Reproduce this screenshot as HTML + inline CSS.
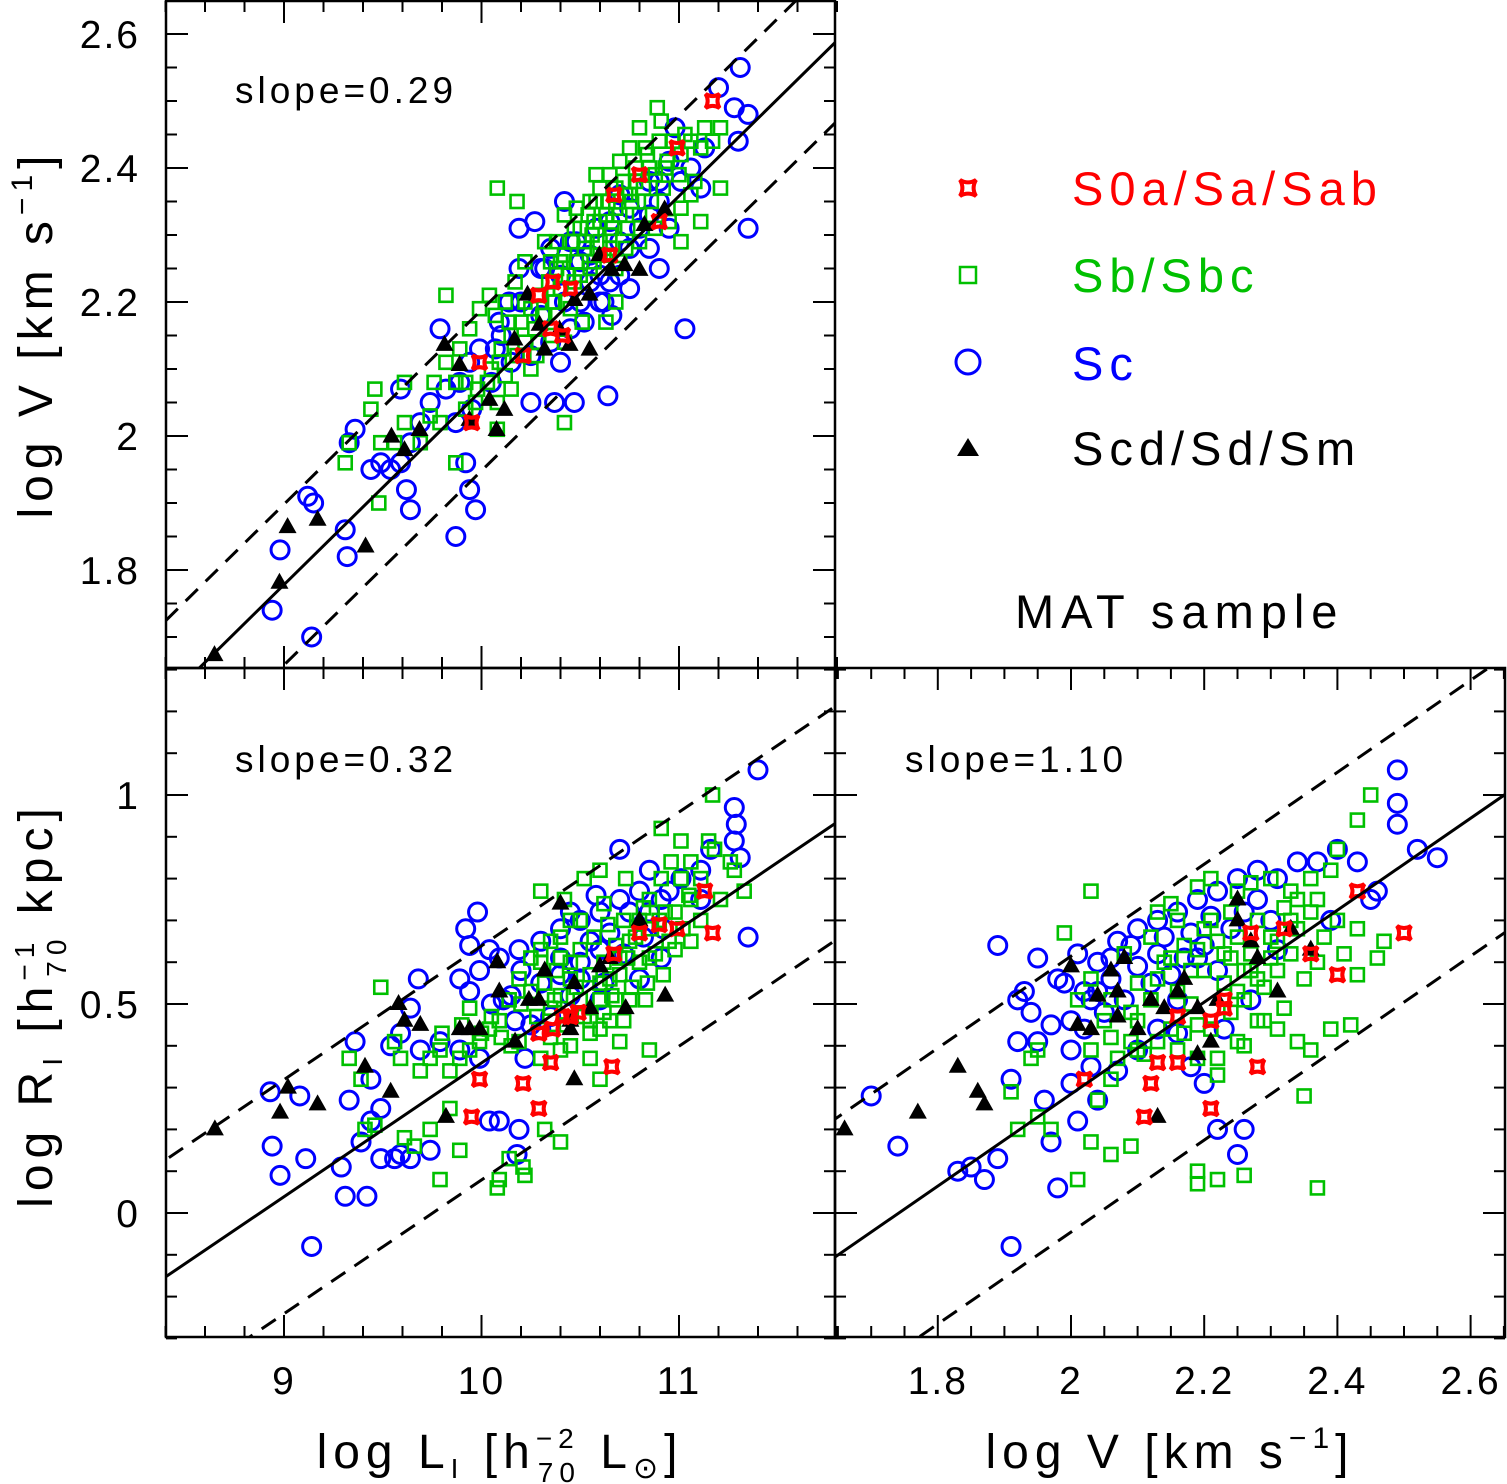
<!DOCTYPE html>
<html><head><meta charset="utf-8"><style>
html,body{margin:0;padding:0;background:#fff;}
svg{display:block;font-family:"Liberation Sans",sans-serif;}
</style></head><body>
<svg id="chart" width="1507" height="1484" viewBox="0 0 1507 1484" xmlns="http://www.w3.org/2000/svg">
<defs>
<clipPath id="clipTL"><rect x="166" y="0" width="669" height="668"/></clipPath>
<clipPath id="clipBL"><rect x="166" y="668" width="669" height="669"/></clipPath>
<clipPath id="clipBR"><rect x="835" y="668" width="670" height="669"/></clipPath>
</defs>
<g id="layer"></g>
<rect x="166" y="1" width="669" height="667" fill="none" stroke="#000" stroke-width="2.5"/>
<rect x="166" y="668" width="669" height="669" fill="none" stroke="#000" stroke-width="2.5"/>
<rect x="835" y="668" width="670" height="669" fill="none" stroke="#000" stroke-width="2.5"/>
<g font-size="37" fill="#000" letter-spacing="4">
<text x="235" y="103">slope=0.29</text>
<text x="235" y="772">slope=0.32</text>
<text x="905" y="772">slope=1.10</text>
</g>
<g font-size="47" letter-spacing="6">
<text x="1072" y="205" fill="#ff0000">S0a/Sa/Sab</text>
<text x="1072" y="292" fill="#00c000">Sb/Sbc</text>
<text x="1072" y="380" fill="#0000ff">Sc</text>
<text x="1072" y="465" fill="#000">Scd/Sd/Sm</text>
</g>
<text x="1015" y="628" font-size="47" letter-spacing="7">MAT sample</text>
<g font-size="48" letter-spacing="6">
<text transform="translate(52,334) rotate(-90)" text-anchor="middle">log V [km s<tspan font-size="30" dy="-20">−1</tspan><tspan dy="20">]</tspan></text>
<text transform="translate(52,1005) rotate(-90)" text-anchor="middle">log R<tspan font-size="28" dy="10">I</tspan><tspan dy="-10"> [h</tspan><tspan font-size="28" dy="-18">−1</tspan><tspan font-size="28" dx="-40" dy="32">70</tspan><tspan dy="-14"> kpc]</tspan></text>
<text x="500" y="1468" text-anchor="middle">log L<tspan font-size="28" dy="10">I</tspan><tspan dy="-10"> [h</tspan><tspan font-size="28" dy="-20">−2</tspan><tspan font-size="28" dx="-42" dy="34">70</tspan><tspan dy="-14"> L</tspan><tspan font-size="30" dy="10">⊙</tspan><tspan dy="-10">]</tspan></text>
<text x="1170" y="1468" text-anchor="middle">log V [km s<tspan font-size="30" dy="-20">−1</tspan><tspan dy="20">]</tspan></text>
</g>
</svg>
<script>
// ---------- data ----------
const tlTicksX = [9, 10, 11];
const tlTicksY = [1.8, 2, 2.2, 2.4, 2.6];
const blTicksY = [0, 0.5, 1];
const brTicksX = [1.8, 2, 2.2, 2.4, 2.6];
const tickLabelsY1 = ["1.8", "2", "2.2", "2.4", "2.6"];
const tickLabelsY2 = ["0", "0.5", "1"];
const tickLabelsX1 = ["9", "10", "11"];
const tickLabelsX2 = ["1.8", "2", "2.2", "2.4", "2.6"];

// fits: [intercept at pivot, slope, pivot, scatter]
const fitTL = [1.654, 0.29, 8.572, 0.12];
const fitBL = [-0.153, 0.32, 8.40, 0.28];
const fitBR = [-0.105, 1.10, 1.646, 0.33];

// top-left: [logL, logV]
const tlSa = [[11.17,2.50],[10.99,2.43],[10.80,2.39],[10.67,2.36],[10.36,2.23],[10.29,2.21],[10.45,2.22],[10.21,2.12],[10.35,2.16],[10.41,2.15],[9.99,2.11],[9.95,2.02],[10.90,2.32],[10.65,2.27]];
const tlSb = [[10.89,2.49],[10.91,2.47],[10.80,2.46],[10.83,2.43],[10.75,2.43],[10.70,2.41],[10.65,2.39],[10.60,2.37],[10.55,2.35],[10.57,2.32],[10.52,2.29],[10.47,2.31],[10.42,2.33],[10.40,2.26],[10.35,2.26],[10.32,2.29],[10.22,2.26],[10.17,2.23],[10.12,2.20],[10.07,2.18],[10.04,2.21],[9.99,2.19],[9.94,2.16],[9.89,2.13],[9.87,2.08],[9.82,2.11],[9.76,2.08],[9.74,2.03],[9.69,1.99],[9.61,2.02],[9.56,1.99],[9.49,1.99],[9.44,2.04],[9.33,1.99],[9.31,1.96],[9.46,2.07],[9.61,2.08],[9.82,2.21],[10.08,2.37],[10.18,2.35],[10.22,2.20],[10.29,2.14],[10.42,2.14],[10.51,2.17],[10.63,2.17],[10.68,2.20],[10.73,2.28],[10.80,2.29],[10.88,2.31],[10.95,2.32],[11.01,2.34],[11.06,2.36],[11.08,2.38],[11.11,2.43],[11.17,2.44],[11.21,2.46],[11.13,2.46],[11.06,2.44],[11.01,2.42],[10.93,2.40],[10.85,2.40],[10.78,2.38],[10.73,2.36],[10.68,2.34],[10.63,2.33],[10.57,2.26],[10.65,2.30],[10.47,2.23],[10.37,2.20],[10.31,2.18],[10.14,2.17],[10.09,2.11],[10.03,2.08],[9.97,2.05],[9.87,1.96],[9.79,2.02],[9.92,2.04],[10.42,2.02],[10.08,2.01],[9.48,1.90],[11.11,2.32],[11.21,2.37],[11.01,2.29],[10.75,2.36],[10.68,2.25],[10.60,2.29],[10.40,2.22],[10.25,2.10],
[10.05,2.10],[10.10,2.13],[10.12,2.09],[10.15,2.15],[10.18,2.12],[10.20,2.17],[10.22,2.14],[10.25,2.19],[10.27,2.16],[10.30,2.21],[10.32,2.18],[10.34,2.23],[10.36,2.20],[10.38,2.25],[10.40,2.22],[10.42,2.27],[10.44,2.24],[10.46,2.29],[10.48,2.26],[10.50,2.31],[10.52,2.28],[10.54,2.33],[10.56,2.30],[10.58,2.35],[10.60,2.32],[10.62,2.27],[10.64,2.35],[10.66,2.31],[10.68,2.37],[10.70,2.33],[10.72,2.38],[10.74,2.31],[10.76,2.35],[10.78,2.40],[10.80,2.33],[10.82,2.37],[10.84,2.42],[10.86,2.35],[10.88,2.39],[10.90,2.44],[10.92,2.37],[10.94,2.41],[10.97,2.44],[11.00,2.39],[11.03,2.45],[10.50,2.24],[10.45,2.19],[10.55,2.25],[10.60,2.27],[10.65,2.28],[10.35,2.15],[10.28,2.12],[10.15,2.07],[10.08,2.05],[9.98,2.07],[9.92,2.08],[10.58,2.39],[10.48,2.34],[10.38,2.29],[10.70,2.26]];
const tlSc = [[11.31,2.55],[11.20,2.52],[11.28,2.49],[11.30,2.44],[11.35,2.48],[11.13,2.43],[11.06,2.40],[11.11,2.37],[11.01,2.38],[10.90,2.35],[10.95,2.31],[10.85,2.28],[10.75,2.34],[10.70,2.29],[10.65,2.23],[10.60,2.20],[10.55,2.23],[10.50,2.26],[10.45,2.29],[10.42,2.35],[10.35,2.28],[10.30,2.25],[10.19,2.25],[10.14,2.20],[10.09,2.17],[10.07,2.13],[9.99,2.13],[9.94,2.11],[9.89,2.08],[9.82,2.07],[9.74,2.05],[9.69,2.02],[9.64,1.99],[9.59,1.96],[9.54,1.95],[9.49,1.96],[9.44,1.95],[9.36,2.01],[9.33,1.99],[9.59,2.07],[9.79,2.16],[9.87,2.02],[9.92,1.96],[9.94,1.92],[9.97,1.89],[9.87,1.85],[9.62,1.92],[9.64,1.89],[9.31,1.86],[9.32,1.82],[9.12,1.91],[9.15,1.90],[8.98,1.83],[8.94,1.74],[9.14,1.70],[11.35,2.31],[11.03,2.16],[10.64,2.06],[10.47,2.05],[10.37,2.05],[10.25,2.05],[10.40,2.11],[10.75,2.22],[10.90,2.25],[10.19,2.31],[10.27,2.32],[10.85,2.38],[10.98,2.46],
[10.10,2.15],[10.20,2.20],[10.30,2.18],[10.40,2.24],[10.50,2.20],[10.55,2.27],[10.60,2.24],[10.65,2.32],[10.70,2.24],[10.75,2.28],[10.80,2.31],[10.85,2.33],[10.62,2.20],[10.52,2.17],[10.45,2.16],[10.35,2.14],[10.25,2.12],[10.15,2.11],[10.05,2.08],[9.95,2.04],[10.70,2.36],[10.58,2.31],[10.48,2.29],[10.90,2.38],[10.95,2.41],[10.42,2.20],[10.32,2.25],[10.66,2.18]];
const tlScd = [[8.648,1.673],[8.977,1.781],[9.018,1.864],[9.170,1.875],[9.413,1.835],[9.544,1.999],[9.610,1.979],[9.686,2.009],[9.813,2.136],[9.889,2.106],[9.939,2.024],[10.040,2.054],[10.076,2.009],[10.116,2.039],[10.167,2.144],[10.233,2.211],[10.294,2.166],[10.319,2.129],[10.395,2.159],[10.446,2.136],[10.547,2.211],[10.597,2.270],[10.658,2.248],[10.724,2.255],[10.800,2.248],[10.825,2.315],[10.927,2.338],[10.547,2.129],[10.471,2.203]];

// bottom-left: [logL, logR]
const blSa = [[11.13,0.77],[11.17,0.67],[10.99,0.68],[10.80,0.67],[10.67,0.62],[10.36,0.44],[10.29,0.43],[10.45,0.47],[10.21,0.31],[10.35,0.36],[10.41,0.47],[9.99,0.32],[9.95,0.23],[10.90,0.69],[10.66,0.35],[10.49,0.48],[10.29,0.25]];
const blSb = [[11.17,1.00],[11.15,0.89],[11.18,0.87],[11.26,0.84],[11.33,0.77],[11.11,0.80],[11.06,0.75],[11.01,0.80],[10.96,0.84],[10.91,0.80],[10.85,0.75],[10.80,0.70],[10.75,0.65],[10.70,0.61],[10.65,0.56],[10.60,0.51],[10.55,0.46],[10.50,0.51],[10.45,0.56],[10.40,0.61],[10.35,0.65],[10.30,0.63],[10.25,0.61],[10.19,0.56],[10.14,0.51],[10.09,0.46],[10.04,0.44],[9.99,0.41],[9.94,0.39],[9.89,0.37],[9.84,0.34],[9.79,0.39],[9.74,0.37],[9.69,0.34],[9.59,0.37],[9.49,0.54],[9.56,0.41],[9.61,0.18],[9.66,0.16],[9.79,0.08],[9.89,0.15],[10.08,0.06],[10.09,0.08],[10.22,0.09],[10.21,0.11],[10.14,0.13],[10.32,0.20],[10.40,0.17],[10.60,0.32],[10.45,0.70],[10.52,0.80],[10.60,0.82],[10.73,0.80],[10.91,0.92],[11.01,0.89],[11.06,0.84],[11.11,0.70],[10.98,0.63],[10.85,0.61],[10.75,0.51],[10.65,0.46],[10.55,0.37],[10.40,0.39],[10.30,0.77],[10.37,0.51],[10.85,0.39],[10.93,0.72],[11.06,0.65],[11.21,0.75],[11.28,0.82],[10.60,0.44],[10.70,0.41],[10.30,0.37],[10.19,0.41],[9.94,0.49],[9.84,0.25],[9.74,0.20],[9.39,0.32],[9.33,0.37],[9.41,0.20],[9.46,0.21],[10.68,0.51],[10.83,0.51],[10.42,0.75],
[10.20,0.50],[10.25,0.53],[10.28,0.47],[10.32,0.55],[10.35,0.49],[10.38,0.58],[10.40,0.52],[10.43,0.45],[10.45,0.60],[10.48,0.54],[10.50,0.63],[10.52,0.47],[10.55,0.57],[10.57,0.66],[10.60,0.55],[10.62,0.60],[10.64,0.69],[10.66,0.52],[10.68,0.64],[10.70,0.57],[10.72,0.70],[10.74,0.61],[10.76,0.54],[10.78,0.66],[10.80,0.60],[10.82,0.73],[10.84,0.55],[10.86,0.68],[10.88,0.62],[10.90,0.70],[10.92,0.57],[10.95,0.65],[10.98,0.72],[11.02,0.68],[11.05,0.76],[10.10,0.42],[10.05,0.47],[10.00,0.43],[10.15,0.40],[10.35,0.42],[10.45,0.40],[10.55,0.43],[10.62,0.48],[10.50,0.70],[10.40,0.66],[10.30,0.60],[10.62,0.74],[10.72,0.46],[9.90,0.45],[9.80,0.43]];
const blSc = [[11.40,1.06],[11.28,0.97],[11.29,0.93],[11.28,0.89],[11.31,0.85],[11.35,0.66],[11.16,0.87],[11.11,0.82],[11.01,0.80],[10.91,0.75],[10.80,0.77],[10.70,0.75],[10.60,0.72],[10.50,0.70],[10.40,0.68],[10.30,0.65],[10.19,0.63],[10.09,0.61],[9.99,0.58],[9.94,0.53],[9.89,0.56],[9.92,0.68],[9.94,0.64],[9.98,0.72],[10.04,0.63],[10.11,0.51],[10.17,0.46],[10.22,0.37],[10.19,0.20],[10.18,0.14],[10.09,0.22],[10.04,0.22],[9.99,0.37],[9.89,0.39],[9.79,0.41],[9.69,0.39],[9.64,0.49],[9.68,0.56],[9.59,0.43],[9.54,0.40],[9.49,0.25],[9.44,0.22],[9.39,0.17],[9.29,0.11],[9.33,0.27],[9.44,0.32],[9.36,0.41],[9.49,0.13],[9.56,0.13],[9.64,0.13],[9.74,0.15],[9.59,0.14],[8.94,0.16],[8.98,0.09],[9.11,0.13],[9.14,-0.08],[9.31,0.04],[9.42,0.04],[9.08,0.28],[8.93,0.29],[10.80,0.56],[10.60,0.63],[10.85,0.82],[10.70,0.87],[10.50,0.56],[10.40,0.61],[10.30,0.44],[10.60,0.51],[10.91,0.61],[11.11,0.75],
[10.30,0.55],[10.40,0.57],[10.50,0.60],[10.55,0.65],[10.65,0.67],[10.75,0.72],[10.85,0.72],[10.95,0.77],[10.45,0.52],[10.35,0.47],[10.25,0.45],[10.15,0.52],[10.05,0.50],[10.62,0.55],[10.72,0.62],[10.82,0.66],[10.92,0.68],[10.45,0.72],[10.58,0.76],[10.20,0.58]];
const blScd = [[8.65,0.20],[8.98,0.24],[9.02,0.30],[9.17,0.26],[9.41,0.35],[9.54,0.29],[9.58,0.50],[9.61,0.46],[9.69,0.45],[9.82,0.23],[9.89,0.44],[9.94,0.44],[9.99,0.44],[10.08,0.60],[10.09,0.53],[10.17,0.41],[10.24,0.51],[10.29,0.51],[10.40,0.74],[10.45,0.44],[10.47,0.55],[10.55,0.49],[10.65,0.61],[10.73,0.49],[10.80,0.70],[10.93,0.52],[10.47,0.32],[10.45,0.46],[10.32,0.58],[10.60,0.59]];

// bottom-right: [logV, logR]
const brSa = [[2.50,0.67],[2.43,0.77],[2.40,0.57],[2.36,0.62],[2.32,0.68],[2.27,0.67],[2.23,0.51],[2.23,0.49],[2.21,0.46],[2.16,0.47],[2.16,0.36],[2.13,0.36],[2.12,0.31],[2.11,0.23],[2.02,0.32],[2.21,0.25],[2.28,0.35]];
const brSb = [[2.45,1.00],[2.43,0.94],[2.40,0.87],[2.39,0.82],[2.37,0.75],[2.36,0.80],[2.34,0.75],[2.33,0.70],[2.31,0.65],[2.30,0.61],[2.28,0.56],[2.27,0.58],[2.25,0.53],[2.24,0.61],[2.22,0.65],[2.21,0.70],[2.19,0.63],[2.18,0.58],[2.16,0.53],[2.15,0.61],[2.13,0.56],[2.12,0.51],[2.10,0.46],[2.09,0.41],[2.07,0.37],[2.06,0.32],[2.04,0.27],[2.03,0.56],[2.01,0.51],[1.99,0.67],[2.03,0.77],[2.10,0.39],[2.16,0.39],[2.19,0.37],[2.22,0.33],[2.25,0.41],[2.28,0.46],[2.31,0.44],[2.34,0.41],[2.36,0.39],[2.39,0.44],[2.42,0.45],[2.43,0.57],[2.46,0.61],[2.47,0.65],[2.37,0.06],[2.35,0.28],[2.26,0.09],[2.22,0.08],[2.19,0.10],[2.19,0.07],[2.09,0.16],[2.06,0.14],[2.03,0.17],[2.01,0.08],[1.97,0.20],[1.95,0.39],[1.94,0.37],[1.91,0.29],[1.92,0.20],[1.95,0.23],[2.26,0.58],[2.30,0.80],[2.33,0.77],[2.24,0.72],[2.13,0.72],[2.16,0.70],[2.06,0.51],[2.03,0.39],
[2.08,0.62],[2.10,0.55],[2.12,0.66],[2.14,0.60],[2.15,0.44],[2.17,0.64],[2.18,0.50],[2.20,0.58],[2.20,0.68],[2.21,0.44],[2.23,0.62],[2.23,0.55],[2.24,0.48],[2.25,0.66],[2.26,0.51],[2.27,0.62],[2.28,0.70],[2.29,0.54],[2.30,0.66],[2.31,0.58],[2.32,0.73],[2.32,0.49],[2.33,0.62],[2.34,0.68],[2.35,0.56],[2.36,0.72],[2.37,0.60],[2.38,0.66],[2.40,0.70],[2.41,0.62],[2.43,0.68],[2.05,0.46],[2.06,0.42],[2.09,0.48],[2.11,0.38],[2.13,0.41],[2.17,0.43],[2.19,0.45],[2.22,0.37],[2.26,0.40],[2.29,0.46],[2.15,0.74],[2.19,0.78],[2.25,0.77],[2.21,0.80],[2.27,0.79]];
const brSc = [[1.70,0.28],[1.74,0.16],[1.83,0.10],[1.85,0.11],[1.89,0.13],[1.91,-0.08],[1.89,0.64],[1.92,0.51],[1.92,0.41],[1.91,0.32],[1.95,0.41],[1.96,0.27],[1.97,0.17],[1.98,0.06],[2.00,0.39],[2.02,0.44],[2.03,0.51],[2.04,0.53],[2.06,0.61],[2.07,0.65],[2.10,0.68],[2.13,0.70],[2.16,0.72],[2.19,0.75],[2.22,0.77],[2.25,0.80],[2.28,0.82],[2.31,0.80],[2.34,0.84],[2.37,0.84],[2.40,0.87],[2.43,0.84],[2.46,0.77],[2.49,1.06],[2.49,0.98],[2.49,0.93],[2.52,0.87],[2.55,0.85],[2.45,0.75],[2.39,0.70],[2.19,0.61],[2.16,0.51],[2.13,0.44],[2.10,0.39],[2.07,0.34],[2.04,0.27],[2.01,0.22],[2.20,0.31],[2.22,0.20],[2.25,0.14],[2.26,0.20],[2.27,0.51],[2.31,0.63],[1.95,0.61],[1.98,0.56],[1.93,0.53],[1.87,0.08],
[2.00,0.46],[2.02,0.53],[2.04,0.60],[2.05,0.48],[2.06,0.56],[2.08,0.51],[2.09,0.64],[2.10,0.59],[2.12,0.55],[2.13,0.62],[2.14,0.66],[2.15,0.57],[2.17,0.61],[2.18,0.67],[2.20,0.64],[2.21,0.71],[2.22,0.58],[2.24,0.68],[2.26,0.72],[2.28,0.75],[2.30,0.70],[1.97,0.45],[1.99,0.55],[2.01,0.62],[2.03,0.35],[2.16,0.43],[2.18,0.35],[2.23,0.44],[2.00,0.31],[1.94,0.48]];
const brScd = [[1.66,0.20],[1.77,0.24],[1.83,0.35],[1.86,0.29],[1.87,0.26],[2.00,0.59],[2.01,0.45],[2.03,0.44],[2.04,0.52],[2.06,0.58],[2.07,0.47],[2.07,0.53],[2.08,0.61],[2.10,0.44],[2.12,0.51],[2.13,0.23],[2.14,0.49],[2.16,0.53],[2.17,0.56],[2.19,0.49],[2.19,0.38],[2.21,0.41],[2.22,0.51],[2.25,0.75],[2.25,0.70],[2.27,0.65],[2.28,0.61],[2.31,0.53],[2.33,0.68],[2.36,0.63]];

// ---------- axes ----------
const xL = v => 284 + (v - 9) * 197.5;
const yV = v => 34 + (2.6 - v) * 670;
const yR = v => 795 + (1 - v) * 418;
const xV = v => 1071 + (v - 2) * 666;

const NS = "http://www.w3.org/2000/svg";
const layer = document.getElementById('layer');
function mk(tag, attrs, parent) {
  const e = document.createElementNS(NS, tag);
  for (const k in attrs) e.setAttribute(k, attrs[k]);
  (parent || layer).appendChild(e);
  return e;
}
function group(clip, name) {
  const g = mk('g', clip ? {'clip-path': 'url(#' + clip + ')'} : {});
  
  
  return g;
}

// ---------- ticks ----------
const tg = group(null, 'axis-ticks');
function xTicks(fx, lo, hi, step, majorStep, y0, y1) {
  const n = Math.round((hi - lo) / step);
  for (let i = 0; i <= n; i++) {
    const v = lo + i * step;
    const major = Math.abs(v / majorStep - Math.round(v / majorStep)) < 1e-6;
    const L = major ? 22 : 11;
    const x = fx(v);
    const t1 = mk('line', {x1: x, x2: x, y1: y1, y2: y1 - L, stroke: '#000', 'stroke-width': 2}, tg);
    
    
    const t2 = mk('line', {x1: x, x2: x, y1: y0, y2: y0 + L, stroke: '#000', 'stroke-width': 2}, tg);
    
    
  }
}
function yTicks(fy, lo, hi, step, majorStep, x0, x1) {
  const n = Math.round((hi - lo) / step);
  for (let i = 0; i <= n; i++) {
    const v = lo + i * step;
    const major = Math.abs(v / majorStep - Math.round(v / majorStep)) < 1e-6;
    const L = major ? 22 : 11;
    const y = fy(v);
    const t1 = mk('line', {x1: x0, x2: x0 + L, y1: y, y2: y, stroke: '#000', 'stroke-width': 2}, tg);
    
    
    const t2 = mk('line', {x1: x1, x2: x1 - L, y1: y, y2: y, stroke: '#000', 'stroke-width': 2}, tg);
    
    
  }
}
xTicks(xL, 8.4, 11.8, 0.2, 1, 1, 668);
xTicks(xL, 8.4, 11.8, 0.2, 1, 668, 1337);
yTicks(yV, 1.7, 2.65, 0.05, 0.2, 166, 835);
yTicks(yR, -0.3, 1.3, 0.1, 0.5, 166, 835);
yTicks(yR, -0.3, 1.3, 0.1, 0.5, 835, 1505);
xTicks(xV, 1.65, 2.65, 0.05, 0.2, 668, 1337);

// tick labels
const lg = group(null, 'tick-labels');
function tickText(x, y, anchor, txt, name) {
  const t = mk('text', {x: x, y: y, 'text-anchor': anchor, 'font-size': 39, 'letter-spacing': 2}, lg);
  t.textContent = txt;
  
  
}
tlTicksY.forEach((v, i) => tickText(140, yV(v) + 14, 'end', tickLabelsY1[i], 'y-tick-label'));
blTicksY.forEach((v, i) => tickText(140, yR(v) + 14, 'end', tickLabelsY2[i], 'y-tick-label'));
tlTicksX.forEach((v, i) => tickText(xL(v), 1394, 'middle', tickLabelsX1[i], 'x-tick-label'));
brTicksX.forEach((v, i) => tickText(xV(v), 1394, 'middle', tickLabelsX2[i], 'x-tick-label'));

// ---------- markers ----------
function star(g, x, y, s) {
  const d = `M${x-s},${y-s} Q${x},${y-s*0.4} ${x+s},${y-s} Q${x+s*0.4},${y} ${x+s},${y+s} Q${x},${y+s*0.4} ${x-s},${y+s} Q${x-s*0.4},${y} ${x-s},${y-s}Z`;
  return mk('path', {d: d, fill: 'none', stroke: '#ff0000', 'stroke-width': 4}, g);
}
function drawSeries(arr, fx, fy, type, clip, name) {
  const g = group(clip, name);
  arr.forEach(p => {
    const x = fx(p[0]), y = fy(p[1]);
    let e;
    if (type === 'sc') e = mk('circle', {cx: x, cy: y, r: 9, fill: 'none', stroke: '#0000ff', 'stroke-width': 3}, g);
    else if (type === 'sb') e = mk('rect', {x: x - 6.5, y: y - 6.5, width: 13, height: 13, fill: 'none', stroke: '#00c000', 'stroke-width': 2.6}, g);
    else if (type === 'scd') e = mk('polygon', {points: `${x},${y-10} ${x+9},${y+6} ${x-9},${y+6}`, fill: '#000'}, g);
    else e = star(g, x, y, 7);
    
    
  });
}
function drawPanel(p, fx, fy, clip, tag) {
  drawSeries(p.sc, fx, fy, 'sc', clip, tag + '-sc-points');
  drawSeries(p.sb, fx, fy, 'sb', clip, tag + '-sb-points');
  drawSeries(p.scd, fx, fy, 'scd', clip, tag + '-scd-points');
  drawSeries(p.sa, fx, fy, 'sa', clip, tag + '-s0a-points');
}
drawPanel({sa: tlSa, sb: tlSb, sc: tlSc, scd: tlScd}, xL, yV, 'clipTL', 'top-left');
drawPanel({sa: blSa, sb: blSb, sc: blSc, scd: blScd}, xL, yR, 'clipBL', 'bottom-left');
drawPanel({sa: brSa, sb: brSb, sc: brSc, scd: brScd}, xV, yR, 'clipBR', 'bottom-right');

// ---------- fit lines ----------
function fitLines(fit, fx, fy, x0, x1, clip, tag) {
  const g = group(clip, tag + '-fit-lines');
  const f = v => fit[0] + fit[1] * (v - fit[2]);
  [[0, 'none', 'fit-line'], [fit[3], '17 11', 'scatter-line-upper'], [-fit[3], '17 11', 'scatter-line-lower']].forEach(o => {
    const l = mk('line', {x1: fx(x0), y1: fy(f(x0) + o[0]), x2: fx(x1), y2: fy(f(x1) + o[0]), stroke: '#000', 'stroke-width': 3, 'stroke-dasharray': o[1]}, g);
    
    
  });
}
fitLines(fitTL, xL, yV, 8.3, 11.9, 'clipTL', 'top-left');
fitLines(fitBL, xL, yR, 8.3, 11.9, 'clipBL', 'bottom-left');
fitLines(fitBR, xV, yR, 1.6, 2.7, 'clipBR', 'bottom-right');

// ---------- legend markers ----------
const lm = group(null, 'legend-markers');
const ls = star(lm, 968, 188, 8);


const lq = mk('rect', {x: 960, y: 267, width: 16, height: 16, fill: 'none', stroke: '#00c000', 'stroke-width': 2.5}, lm);


const lc = mk('circle', {cx: 968, cy: 362, r: 12, fill: 'none', stroke: '#0000ff', 'stroke-width': 3}, lm);


const lt = mk('polygon', {points: '968,438 979,456 957,456', fill: '#000'}, lm);


</script>
</body></html>
